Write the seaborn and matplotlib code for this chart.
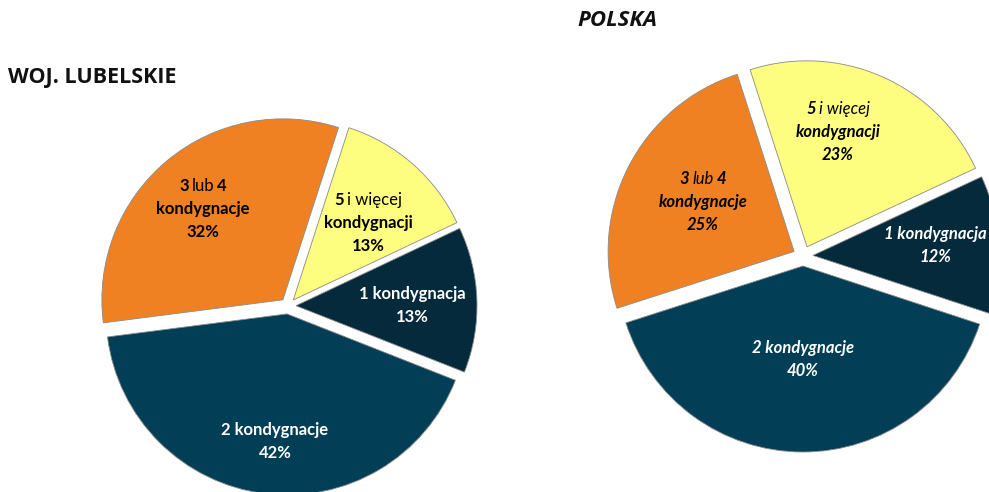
import matplotlib
matplotlib.use("Agg")
import matplotlib.pyplot as plt
import seaborn as sns

# ---------------- data ----------------
categories = ["1 kondygnacja", "2 kondygnacje", "3 lub 4 kondygnacje", "5 i więcej kondygnacji"]
lubelskie = [13, 42, 32, 13]
polska = [12, 40, 25, 23]
titles = ["WOJ. LUBELSKIE", "POLSKA"]

colors = ["#042a3b", "#023f56", "#f08122", "#fdfd7f"]
text_colors = ["white", "white", "black", "black"]

sns.set_theme(style="white")
plt.rcParams["font.family"] = ["Lato", "DejaVu Sans"]

W, H = 989, 492
fig = plt.figure(figsize=(W / 100, H / 100), dpi=100)
ax = fig.add_axes([0, 0, 1, 1])
renderer = fig.canvas.get_renderer()


def label_parts(cat, pct):
    """Return list of lines; each line a list of (text, weight)."""
    if cat.startswith("3 lub 4"):
        return [[("3", "bold"), ("lub", "normal"), ("4", "bold")],
                [("kondygnacje", "bold")], [(f"{pct}%", "bold")]]
    if cat.startswith("5 i"):
        return [[("5", "bold"), ("i więcej", "normal")],
                [("kondygnacji", "bold")], [(f"{pct}%", "bold")]]
    return [[(cat, "bold")], [(f"{pct}%", "bold")]]


def rich_line(x, y, parts, color, style, size, gap=3.0):
    texts, widths = [], []
    for s, w in parts:
        t = ax.text(0, y, s, fontweight=w, fontstyle=style, color=color,
                    fontsize=size, ha="left", va="center")
        widths.append(t.get_window_extent(renderer=renderer).width)
        texts.append(t)
    total = sum(widths) + gap * (len(parts) - 1)
    xp = x - total / 2
    for t, w in zip(texts, widths):
        t.set_x(xp)
        xp += w + gap


def draw_pie(values, center, radius, explode_px, start, label_pos, style):
    cx, cy = center
    ax.pie(values, colors=colors, startangle=start, counterclock=False,
           center=(cx, H - cy), radius=radius,
           explode=[explode_px] * len(values),
           wedgeprops=dict(edgecolor="#8a8a8a", linewidth=0.6),
           frame=False)
    for cat, v, tc, (lx, ly) in zip(categories, values, text_colors, label_pos):
        lines = label_parts(cat, v)
        n = len(lines)
        for i, parts in enumerate(lines):
            yy = ly + (i - (n - 1) / 2) * 23
            rich_line(lx, H - yy, parts, tc, style, 12)


# left pie (woj. lubelskie)
draw_pie(lubelskie, (288, 306), 181, 8, 25.3,
         [(412, 305), (275, 441), (203, 209), (368, 223)], "normal")
# right pie (Polska)
draw_pie(polska, (803, 256), 186, 10, 25.0,
         [(935, 245), (803, 359), (703, 202), (838, 132)], "italic")

ax.text(8, H - 77, titles[0], fontsize=15.5, fontweight="bold",
        family=["Open Sans", "DejaVu Sans"], ha="left", va="center", color="#111111")
ax.text(617, H - 21, titles[1], fontsize=16, fontweight="bold", fontstyle="italic",
        family=["Open Sans", "DejaVu Sans"], ha="center", va="center", color="#111111")

ax.set_xlim(0, W)
ax.set_ylim(0, H)
ax.set_aspect("auto")
ax.axis("off")

fig.savefig("out.png", dpi=100)
